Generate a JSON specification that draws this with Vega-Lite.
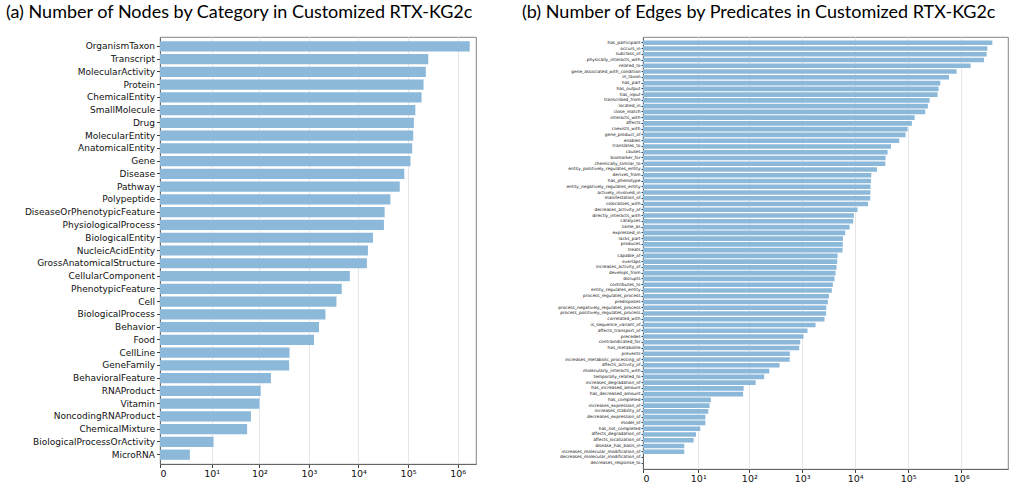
{
  "$schema": "https://vega.github.io/schema/vega-lite/v6.json",
  "padding": {"left": 5, "top": 3, "right": 0, "bottom": 0},
  "background": "white",
  "spacing": 20,
  "config": {
    "view": {"stroke": "#666666", "strokeWidth": 0.8},
    "font": "DejaVu Sans",
    "axis": {"labelFont": "DejaVu Sans", "labelColor": "#111111", "tickColor": "#444444", "domainColor": "#666666", "title": null}
  },
  "datasets": {
    "nodes": [
      {"category": "OrganismTaxon", "count": 1750000},
      {"category": "Transcript", "count": 255000},
      {"category": "MolecularActivity", "count": 228000},
      {"category": "Protein", "count": 205000},
      {"category": "ChemicalEntity", "count": 187000},
      {"category": "SmallMolecule", "count": 140000},
      {"category": "Drug", "count": 131000},
      {"category": "MolecularEntity", "count": 127000},
      {"category": "AnatomicalEntity", "count": 121000},
      {"category": "Gene", "count": 112000},
      {"category": "Disease", "count": 84000},
      {"category": "Pathway", "count": 68000},
      {"category": "Polypeptide", "count": 44000},
      {"category": "DiseaseOrPhenotypicFeature", "count": 33700},
      {"category": "PhysiologicalProcess", "count": 32600},
      {"category": "BiologicalEntity", "count": 19600},
      {"category": "NucleicAcidEntity", "count": 15500},
      {"category": "GrossAnatomicalStructure", "count": 14800},
      {"category": "CellularComponent", "count": 6700},
      {"category": "PhenotypicFeature", "count": 4600},
      {"category": "Cell", "count": 3600},
      {"category": "BiologicalProcess", "count": 2160},
      {"category": "Behavior", "count": 1600},
      {"category": "Food", "count": 1270},
      {"category": "CellLine", "count": 407},
      {"category": "GeneFamily", "count": 400},
      {"category": "BehavioralFeature", "count": 171},
      {"category": "RNAProduct", "count": 106},
      {"category": "Vitamin", "count": 100},
      {"category": "NoncodingRNAProduct", "count": 67},
      {"category": "ChemicalMixture", "count": 56},
      {"category": "BiologicalProcessOrActivity", "count": 11},
      {"category": "MicroRNA", "count": 3}
    ],
    "edges": [
      {"predicate": "has_participant", "count": 3850000},
      {"predicate": "occurs_in", "count": 3100000},
      {"predicate": "subclass_of", "count": 3010000},
      {"predicate": "physically_interacts_with", "count": 2680000},
      {"predicate": "related_to", "count": 1500000},
      {"predicate": "gene_associated_with_condition", "count": 818000},
      {"predicate": "in_taxon", "count": 586000},
      {"predicate": "has_part", "count": 402000},
      {"predicate": "has_output", "count": 374000},
      {"predicate": "has_input", "count": 358000},
      {"predicate": "transcribed_from", "count": 253000},
      {"predicate": "located_in", "count": 235000},
      {"predicate": "close_match", "count": 209000},
      {"predicate": "interacts_with", "count": 132000},
      {"predicate": "affects", "count": 117000},
      {"predicate": "coexists_with", "count": 97300},
      {"predicate": "gene_product_of", "count": 89200},
      {"predicate": "enables", "count": 67700},
      {"predicate": "translates_to", "count": 47200},
      {"predicate": "causes", "count": 40800},
      {"predicate": "biomarker_for", "count": 37400},
      {"predicate": "chemically_similar_to", "count": 36900},
      {"predicate": "entity_positively_regulates_entity", "count": 25700},
      {"predicate": "derives_from", "count": 20100},
      {"predicate": "has_phenotype", "count": 19800},
      {"predicate": "entity_negatively_regulates_entity", "count": 19500},
      {"predicate": "actively_involved_in", "count": 19400},
      {"predicate": "manifestation_of", "count": 19200},
      {"predicate": "colocalizes_with", "count": 17400},
      {"predicate": "decreases_activity_of", "count": 11100},
      {"predicate": "directly_interacts_with", "count": 9450},
      {"predicate": "catalyzes", "count": 9180},
      {"predicate": "same_as", "count": 7830},
      {"predicate": "expressed_in", "count": 6490},
      {"predicate": "lacks_part", "count": 5880},
      {"predicate": "produces", "count": 5840},
      {"predicate": "treats", "count": 5780},
      {"predicate": "capable_of", "count": 4650},
      {"predicate": "overlaps", "count": 4580},
      {"predicate": "increases_activity_of", "count": 4450},
      {"predicate": "develops_from", "count": 4260},
      {"predicate": "disrupts", "count": 4080},
      {"predicate": "contributes_to", "count": 3790},
      {"predicate": "entity_regulates_entity", "count": 3630},
      {"predicate": "process_regulates_process", "count": 3190},
      {"predicate": "predisposes", "count": 3050},
      {"predicate": "process_negatively_regulates_process", "count": 2850},
      {"predicate": "process_positively_regulates_process", "count": 2830},
      {"predicate": "correlated_with", "count": 2640},
      {"predicate": "is_sequence_variant_of", "count": 1790},
      {"predicate": "affects_transport_of", "count": 1260},
      {"predicate": "precedes", "count": 1060},
      {"predicate": "contraindicated_for", "count": 918},
      {"predicate": "has_metabolite", "count": 879},
      {"predicate": "prevents", "count": 586},
      {"predicate": "increases_metabolic_processing_of", "count": 580},
      {"predicate": "affects_activity_of", "count": 374},
      {"predicate": "molecularly_interacts_with", "count": 239},
      {"predicate": "temporally_related_to", "count": 192},
      {"predicate": "increases_degradation_of", "count": 132},
      {"predicate": "has_increased_amount", "count": 78},
      {"predicate": "has_decreased_amount", "count": 76},
      {"predicate": "has_completed", "count": 18},
      {"predicate": "increases_expression_of", "count": 17},
      {"predicate": "increases_stability_of", "count": 16},
      {"predicate": "decreases_expression_of", "count": 14},
      {"predicate": "model_of", "count": 14},
      {"predicate": "has_not_completed", "count": 11},
      {"predicate": "affects_degradation_of", "count": 9},
      {"predicate": "affects_localization_of", "count": 8},
      {"predicate": "disease_has_basis_in", "count": 5},
      {"predicate": "increases_molecular_modification_of", "count": 5},
      {"predicate": "decreases_molecular_modification_of", "count": 0},
      {"predicate": "decreases_response_to", "count": 0}
    ]
  },
  "hconcat": [
    {
      "width": 316,
      "height": 427,
      "title": {"text": "(a)  Number of Nodes by Category in Customized RTX-KG2c", "anchor": "start", "frame": "bounds", "font": "Lato", "fontSize": 18, "fontWeight": "normal", "color": "#000000", "offset": 15},
      "data": {"name": "nodes"},
      "mark": {"type": "bar", "color": "#8cb8da"},
      "encoding": {
        "y": {
          "field": "category", "type": "nominal", "sort": null,
          "scale": {"paddingInner": 0.2, "paddingOuter": 0.33},
          "axis": {"labelFontSize": 9, "tickSize": 3.5, "labelPadding": 2, "minExtent": 154, "maxExtent": 154}
        },
        "x": {
          "field": "count", "type": "quantitative",
          "scale": {"type": "symlog", "domain": [0, 2340000], "nice": false},
          "axis": {
            "values": [0, 10, 100, 1000, 10000, 100000, 1000000],
            "labelExpr": "datum.value == 0 ? '0' : datum.value == 10 ? '10¹' : datum.value == 100 ? '10²' : datum.value == 1000 ? '10³' : datum.value == 10000 ? '10⁴' : datum.value == 100000 ? '10⁵' : '10⁶'",
            "grid": true, "gridColor": "#e6e6e6", "labelFontSize": 9.5, "tickSize": 3.5, "labelPadding": 1
          }
        }
      }
    },
    {
      "width": 365,
      "height": 432,
      "title": {"text": "(b)  Number of Edges by Predicates in Customized RTX-KG2c", "anchor": "start", "frame": "bounds", "font": "Lato", "fontSize": 18, "fontWeight": "normal", "color": "#000000", "offset": 15, "dx": 22},
      "data": {"name": "edges"},
      "mark": {"type": "bar", "color": "#8cb8da"},
      "encoding": {
        "y": {
          "field": "predicate", "type": "nominal", "sort": null,
          "scale": {"paddingInner": 0.2, "paddingOuter": 0.6},
          "axis": {"labelFontSize": 4.3, "tickSize": 2, "labelPadding": 1, "minExtent": 143, "maxExtent": 143}
        },
        "x": {
          "field": "count", "type": "quantitative",
          "scale": {"type": "symlog", "domain": [0, 7600000], "nice": false},
          "axis": {
            "values": [0, 10, 100, 1000, 10000, 100000, 1000000],
            "labelExpr": "datum.value == 0 ? '0' : datum.value == 10 ? '10¹' : datum.value == 100 ? '10²' : datum.value == 1000 ? '10³' : datum.value == 10000 ? '10⁴' : datum.value == 100000 ? '10⁵' : '10⁶'",
            "grid": true, "gridColor": "#e6e6e6", "labelFontSize": 9.5, "tickSize": 3.5, "labelPadding": 1
          }
        }
      }
    }
  ]
}
